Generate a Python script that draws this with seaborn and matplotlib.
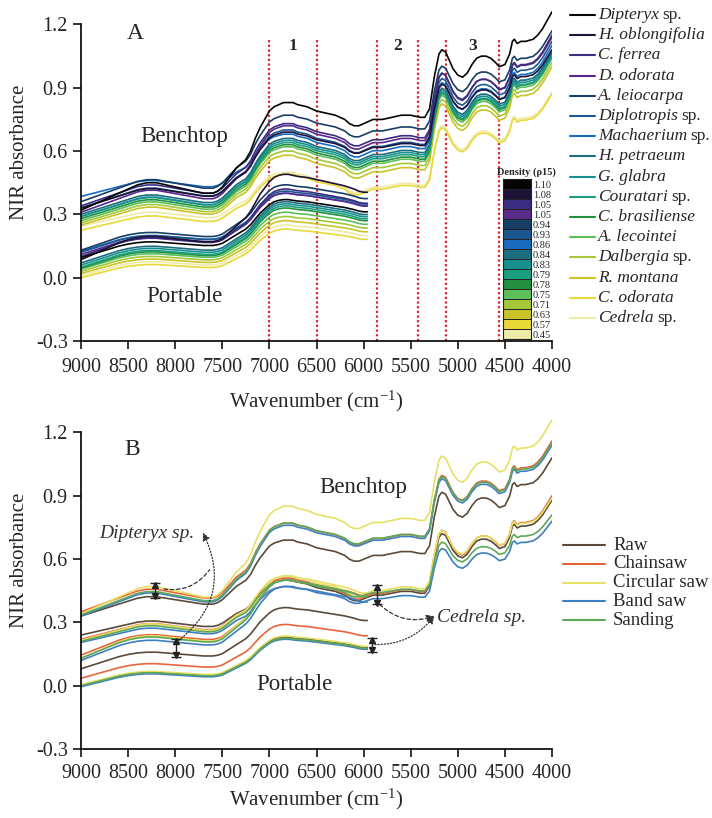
import numpy as np
import pandas as pd
import matplotlib
matplotlib.use("Agg")
import matplotlib.pyplot as plt
import seaborn as sns
from matplotlib.colors import ListedColormap
from matplotlib.lines import Line2D

# ------------------------------------------------------------------ data
# Shape profile of the top benchtop spectrum (panel A)
PROF_BENCH_WN = [9000, 8900, 8800, 8700, 8600, 8500, 8400, 8300, 8200, 8100,
                 8000, 7900, 7800, 7700, 7600, 7550, 7500, 7450, 7400, 7350,
                 7300, 7250, 7200, 7150, 7100, 7050, 7000, 6950, 6900, 6850,
                 6800, 6750, 6700, 6600, 6500, 6400, 6300, 6200, 6150, 6100,
                 6050, 6000, 5950, 5900, 5800, 5700, 5600, 5500, 5400, 5350,
                 5300, 5250, 5200, 5170, 5130, 5100, 5050, 5000, 4950, 4900,
                 4850, 4800, 4750, 4700, 4650, 4600, 4560, 4500, 4450, 4420,
                 4400, 4370, 4330, 4280, 4200, 4150, 4100, 4050, 4000]
PROF_BENCH_AB = [0.32, 0.34, 0.36, 0.38, 0.40, 0.42, 0.44, 0.45, 0.45, 0.44,
                 0.43, 0.42, 0.41, 0.40, 0.40, 0.41, 0.43, 0.46, 0.49, 0.52,
                 0.54, 0.56, 0.60, 0.66, 0.71, 0.75, 0.79, 0.81, 0.82, 0.83,
                 0.83, 0.83, 0.82, 0.81, 0.79, 0.78, 0.77, 0.75, 0.73, 0.72,
                 0.72, 0.73, 0.74, 0.75, 0.75, 0.76, 0.77, 0.77, 0.76, 0.76,
                 0.80, 0.95, 1.06, 1.08, 1.07, 1.04, 0.99, 0.96, 0.95, 0.97,
                 1.01, 1.04, 1.05, 1.05, 1.04, 1.02, 1.00, 1.01, 1.06, 1.12,
                 1.13, 1.11, 1.12, 1.12, 1.13, 1.15, 1.18, 1.22, 1.26]
# Shape profile of the top portable spectrum (panel A)
PROF_PORT_WN = [9000, 8900, 8800, 8700, 8600, 8500, 8400, 8300, 8200, 8100,
                8000, 7900, 7800, 7700, 7600, 7550, 7500, 7450, 7400, 7350,
                7300, 7250, 7200, 7150, 7100, 7050, 7000, 6950, 6900, 6850,
                6800, 6750, 6700, 6600, 6500, 6400, 6300, 6200, 6100, 6050,
                6000, 5960]
PROF_PORT_AB = [0.09, 0.11, 0.13, 0.15, 0.17, 0.185, 0.195, 0.20, 0.20, 0.195,
                0.19, 0.185, 0.18, 0.175, 0.175, 0.18, 0.19, 0.21, 0.23, 0.25,
                0.27, 0.29, 0.32, 0.36, 0.40, 0.43, 0.46, 0.48, 0.49, 0.495,
                0.495, 0.49, 0.485, 0.48, 0.47, 0.46, 0.45, 0.44, 0.425, 0.415,
                0.41, 0.41]

# Panel A: species, density and per-spectrum levels (at 9000, 6850, 4000 cm-1)
SPECIES = ["Dipteryx", "H. oblongifolia", "C. ferrea", "D. odorata",
           "A. leiocarpa", "Diplotropis", "Machaerium", "H. petraeum",
           "G. glabra", "Couratari", "C. brasiliense", "A. lecointei",
           "Dalbergia", "R. montana", "C. odorata", "Cedrela"]
SP_SUFFIX = [True, False, False, False, False, True, True, False,
             False, True, False, False, True, False, False, True]
DENSITY = [1.10, 1.08, 1.05, 1.05, 0.94, 0.93, 0.86, 0.84,
           0.83, 0.79, 0.78, 0.75, 0.71, 0.63, 0.57, 0.45]
SPECIES_COLORS = ["#050505", "#1e1238", "#3b2d80", "#5a2a8a", "#173e66",
                  "#1c5690", "#1a6cc0", "#1a6e80", "#17918f", "#1aa080",
                  "#239040", "#5cbf5a", "#a4c83a", "#c8c428", "#e8d838",
                  "#f0eaa8"]
BENCH_9000 = [0.32, 0.33, 0.34, 0.31, 0.36, 0.33, 0.385, 0.30,
              0.29, 0.29, 0.28, 0.27, 0.26, 0.25, 0.225, 0.245]
BENCH_6850 = [0.83, 0.69, 0.73, 0.72, 0.77, 0.70, 0.68, 0.66,
              0.65, 0.64, 0.63, 0.62, 0.60, 0.58, 0.49, 0.50]
BENCH_4000 = [1.26, 1.08, 1.14, 1.15, 1.17, 1.12, 1.10, 1.07,
              1.06, 1.05, 1.05, 1.04, 1.02, 1.00, 0.87, 0.88]
PORT_9000 = [0.095, 0.085, 0.10, 0.11, 0.13, 0.12, 0.125, 0.07,
             0.06, 0.05, 0.045, 0.04, 0.03, 0.02, 0.0, 0.01]
PORT_6850 = [0.37, 0.49, 0.42, 0.40, 0.44, 0.41, 0.40, 0.36,
             0.35, 0.34, 0.33, 0.31, 0.29, 0.27, 0.23, 0.25]

REGION_BOUNDS = [7000, 6500, 5860, 5420, 5130, 4560]
REGION_LABELS = ["1", "2", "3"]
REGION_LABEL_WN = [6750, 5640, 4845]

# Panel B: surface treatments for Dipteryx sp. and Cedrela sp.
TREATMENTS = ["Raw", "Chainsaw", "Circular saw", "Band saw", "Sanding"]
TREAT_COLORS = ["#5b4a3a", "#e8643c", "#e6e064", "#3f7fbf", "#5fa85a"]
DIP_BENCH_9000 = [0.33, 0.35, 0.34, 0.33, 0.335]
DIP_BENCH_6850 = [0.69, 0.77, 0.85, 0.76, 0.77]
DIP_BENCH_4000 = [1.08, 1.16, 1.26, 1.14, 1.15]
CED_BENCH_9000 = [0.24, 0.22, 0.215, 0.205, 0.21]
CED_BENCH_6850 = [0.50, 0.51, 0.52, 0.47, 0.50]
CED_BENCH_4000 = [0.88, 0.90, 0.89, 0.78, 0.81]
DIP_PORT_9000 = [0.08, 0.145, 0.13, 0.12, 0.13]
DIP_PORT_6850 = [0.37, 0.50, 0.52, 0.47, 0.50]
CED_PORT_9000 = [0.0, 0.035, 0.005, -0.005, 0.0]
CED_PORT_6850 = [0.23, 0.29, 0.235, 0.22, 0.225]

# ranges marked in panel B (wavenumber, low, high)
RANGE_WN = [8215, 7990, 5860, 5915]
RANGE_LO = [0.415, 0.135, 0.385, 0.158]
RANGE_HI = [0.485, 0.222, 0.478, 0.226]


# ------------------------------------------------------------------ helpers
def bench_spectrum(a, b, c):
    wn = np.asarray(PROF_BENCH_WN, float)
    p = np.asarray(PROF_BENCH_AB, float)
    p0, pm, pe = p[0], p[wn == 6850][0], p[-1]
    low = a + (b - a) * (p - p0) / (pm - p0)
    high = b + (c - b) * (p - pm) / (pe - pm)
    return wn, np.where(wn >= 6850, low, high)


def port_spectrum(a, b):
    wn = np.asarray(PROF_PORT_WN, float)
    p = np.asarray(PROF_PORT_AB, float)
    p0, pm = p[0], p[wn == 6850][0]
    return wn, a + (b - a) * (p - p0) / (pm - p0)


def frame(rows):
    return pd.DataFrame(rows, columns=["wn", "ab", "id"])


# ------------------------------------------------------------------ style
sns.set_theme(style="ticks")
plt.rcParams["font.family"] = ["Liberation Serif", "DejaVu Serif"]
plt.rcParams["mathtext.fontset"] = "custom"
plt.rcParams["mathtext.rm"] = "Liberation Serif"
plt.rcParams["mathtext.it"] = "Liberation Serif:italic"
plt.rcParams["axes.unicode_minus"] = False

W, H = 712, 818
fig = plt.figure(figsize=(W / 100, H / 100), dpi=100)
fig.patch.set_facecolor("white")


def fx(px):
    return px / W


def fy(py):
    return 1 - py / H


axA = fig.add_axes([fx(81), fy(341), 471 / W, 333.4 / H])
axB = fig.add_axes([fx(81), fy(749), 471 / W, 333.4 / H])

# ------------------------------------------------------------------ panel A
rows, pal, order = [], {}, []
for i in reversed(range(len(SPECIES))):
    for kind in ("bench", "port"):
        if kind == "bench":
            wn, ab = bench_spectrum(BENCH_9000[i], BENCH_6850[i], BENCH_4000[i])
        else:
            wn, ab = port_spectrum(PORT_9000[i], PORT_6850[i])
        key = f"{SPECIES[i]}|{kind}"
        rows += [(w_, a_, key) for w_, a_ in zip(wn, ab)]
        pal[key] = SPECIES_COLORS[i]
        order.append(key)
dfA = frame(rows)
sns.lineplot(data=dfA, x="wn", y="ab", hue="id", hue_order=order, palette=pal,
             estimator=None, sort=False, legend=False, lw=1.2, ax=axA)

axA.vlines(REGION_BOUNDS, -0.3, 1.137, colors="#e0262a",
           linestyles=(0, (1, 1.1)), lw=1.6, zorder=1)
for lab, w_ in zip(REGION_LABELS, REGION_LABEL_WN):
    axA.text(w_, 1.10, lab, ha="center", va="center", fontsize=12.5,
             fontweight="bold")
axA.text(8420, 1.155, "A", ha="center", va="center", fontsize=17)
axA.text(7900, 0.67, "Benchtop", ha="center", va="center", fontsize=16.5)
axA.text(7900, -0.09, "Portable", ha="center", va="center", fontsize=16.5)

# ------------------------------------------------------------------ panel B
rows, pal, order = [], {}, []
for j, t in enumerate(TREATMENTS):
    sets = [
        ("Dbench", bench_spectrum(DIP_BENCH_9000[j], DIP_BENCH_6850[j], DIP_BENCH_4000[j])),
        ("Cbench", bench_spectrum(CED_BENCH_9000[j], CED_BENCH_6850[j], CED_BENCH_4000[j])),
        ("Dport", port_spectrum(DIP_PORT_9000[j], DIP_PORT_6850[j])),
        ("Cport", port_spectrum(CED_PORT_9000[j], CED_PORT_6850[j])),
    ]
    for name, (wn, ab) in sets:
        key = f"{t}|{name}"
        rows += [(w_, a_, key) for w_, a_ in zip(wn, ab)]
        pal[key] = TREAT_COLORS[j]
        order.append(key)
dfB = frame(rows)
sns.lineplot(data=dfB, x="wn", y="ab", hue="id", hue_order=order, palette=pal,
             estimator=None, sort=False, legend=False, lw=1.2, ax=axB)

# range markers
for w_, lo, hi in zip(RANGE_WN, RANGE_LO, RANGE_HI):
    axB.errorbar([w_], [(lo + hi) / 2], yerr=[(hi - lo) / 2], fmt="none",
                 ecolor="#222222", elinewidth=1.0, capsize=3.5, capthick=1.0,
                 zorder=5)
    axB.plot([w_], [hi - 0.009], marker="^", ms=4, color="#222222", zorder=6)
    axB.plot([w_], [lo + 0.009], marker="v", ms=4, color="#222222", zorder=6)

axB.text(8300, 0.72, "Dipteryx sp.", ha="center", va="center", fontsize=14,
         style="italic", color="#333333")
axB.text(5225, 0.325, "Cedrela sp.", ha="left", va="center", fontsize=14,
         style="italic", color="#333333")
# connectors
axB.annotate("", xy=(7634, 0.55), xytext=(8120, 0.458),
             arrowprops=dict(arrowstyle="-", ls=(0, (3, 2)), color="#333333",
                             lw=0.9, connectionstyle="arc3,rad=0.3",
                             shrinkA=0, shrinkB=0))
axB.annotate("", xy=(7706, 0.725), xytext=(7960, 0.215),
             arrowprops=dict(arrowstyle="-|>", ls=(0, (1, 1.5)), color="#333333",
                             lw=0.9, connectionstyle="arc3,rad=0.4",
                             mutation_scale=11, shrinkA=0, shrinkB=0))
axB.annotate("", xy=(5250, 0.33), xytext=(5830, 0.385),
             arrowprops=dict(arrowstyle="-|>", ls=(0, (3, 2)), color="#333333",
                             lw=0.9, connectionstyle="arc3,rad=0.3",
                             mutation_scale=11, shrinkA=0, shrinkB=0))
axB.annotate("", xy=(5250, 0.33), xytext=(5880, 0.195),
             arrowprops=dict(arrowstyle="-|>", ls=(0, (1, 1.5)), color="#333333",
                             lw=0.9, connectionstyle="arc3,rad=0.25",
                             mutation_scale=11, shrinkA=0, shrinkB=0))

axB.text(8460, 1.12, "B", ha="center", va="center", fontsize=17)
axB.text(6000, 0.94, "Benchtop", ha="center", va="center", fontsize=16.5)
axB.text(6730, 0.005, "Portable", ha="center", va="center", fontsize=16.5)

# ------------------------------------------------------------------ axes
for ax, lpad in ((axA, 8), (axB, 3)):
    ax.set_xlim(9000, 4000)
    ax.set_ylim(-0.3, 1.28)
    ax.set_xticks(np.arange(9000, 3999, -500))
    ax.set_xticklabels([str(v) for v in np.arange(9000, 3999, -500)])
    ax.set_yticks([-0.3, 0.0, 0.3, 0.6, 0.9, 1.2])
    ax.set_yticklabels(["-0.3", "0.0", "0.3", "0.6", "0.9", "1.2"])
    ax.tick_params(axis="both", direction="out", length=5.5, width=1.1,
                   labelsize=14.5, color="black")
    ax.tick_params(axis="x", pad=7 if ax is axA else 5)
    ax.tick_params(axis="y", pad=4)
    for s in ("top", "right"):
        ax.spines[s].set_visible(False)
    for s in ("left", "bottom"):
        ax.spines[s].set_linewidth(1.2)
        ax.spines[s].set_color("black")
    ax.spines["left"].set_bounds(-0.3, 1.2)
    ax.set_xlabel("Wavenumber (cm$^{-1}$)", fontsize=15, labelpad=lpad)
    ax.set_ylabel("NIR absorbance", fontsize=15)
    ax.yaxis.set_label_coords(-0.11, 0.567)
    ax.set_facecolor("white")
    ax.grid(False)

# ------------------------------------------------------------------ density bar
cax = fig.add_axes([fx(503), fy(339), 28 / W, 160 / H])
sns.heatmap(np.arange(len(DENSITY)).reshape(-1, 1),
            cmap=ListedColormap(SPECIES_COLORS), cbar=False,
            linewidths=0.6, linecolor="#222222", ax=cax,
            xticklabels=False, yticklabels=[f"{d:.2f}" for d in DENSITY])
cax.tick_params(axis="y", left=False, right=False, labelleft=False,
                labelright=True, length=0, pad=1.5, labelsize=7.5,
                labelrotation=0)
for s in cax.spines.values():
    s.set_visible(True)
    s.set_linewidth(0.8)
    s.set_color("#222222")
fig.text(fx(526), fy(172), "Density (ρ15)", fontsize=7.5, fontweight="bold",
         ha="center", va="center")

# ------------------------------------------------------------------ legends
renderer = fig.canvas.get_renderer()
for i, name in enumerate(SPECIES):
    py = 15 + i * 20.2
    fig.add_artist(Line2D([fx(570), fx(595)], [fy(py), fy(py)],
                          color=SPECIES_COLORS[i], lw=1.5))
    t = fig.text(fx(598), fy(py), name, style="italic", fontsize=12.5,
                 ha="left", va="center")
    if SP_SUFFIX[i]:
        bb = t.get_window_extent(renderer=renderer)
        fig.text((bb.x1 + 3.5) / W, fy(py), "sp.", fontsize=12.5,
                 ha="left", va="center")

for j, t in enumerate(TREATMENTS):
    py = 545 + j * 18.8
    fig.add_artist(Line2D([fx(563), fx(605)], [fy(py), fy(py)],
                          color=TREAT_COLORS[j], lw=1.5))
    fig.text(fx(613), fy(py), t, fontsize=13.5, ha="left", va="center")

fig.savefig("out.png", dpi=100, facecolor="white")
